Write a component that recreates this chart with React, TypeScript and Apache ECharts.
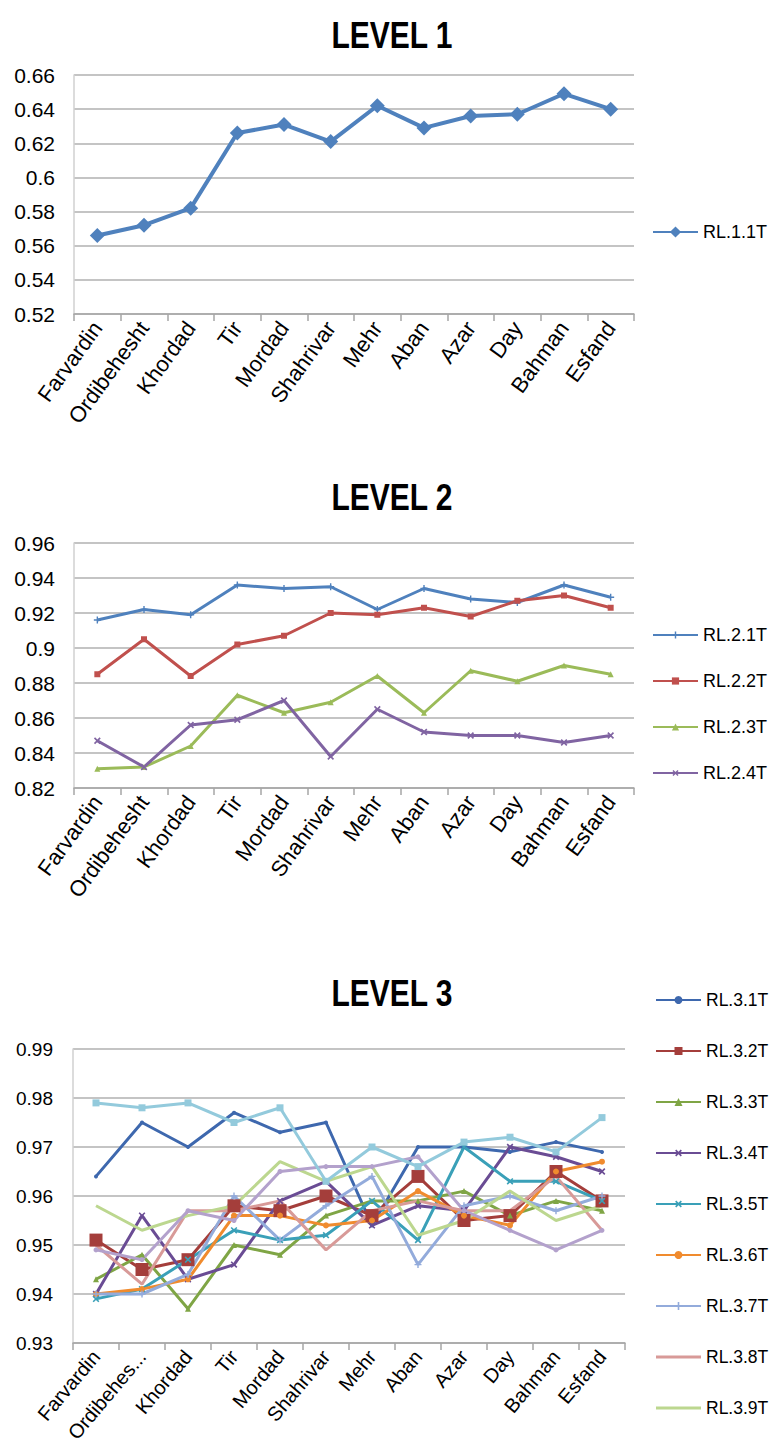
import React, { useEffect, useRef } from "react";
import * as echarts from "echarts";

const months = ["Farvardin", "Ordibehesht", "Khordad", "Tir", "Mordad", "Shahrivar", "Mehr", "Aban", "Azar", "Day", "Bahman", "Esfand"];

const titles = ["LEVEL 1", "LEVEL 2", "LEVEL 3"];

// Level 1
const rl11 = [0.566, 0.572, 0.582, 0.626, 0.631, 0.621, 0.642, 0.629, 0.636, 0.637, 0.649, 0.640];

// Level 2
const rl21 = [0.916, 0.922, 0.919, 0.936, 0.934, 0.935, 0.922, 0.934, 0.928, 0.926, 0.936, 0.929];
const rl22 = [0.885, 0.905, 0.884, 0.902, 0.907, 0.920, 0.919, 0.923, 0.918, 0.927, 0.930, 0.923];
const rl23 = [0.831, 0.832, 0.844, 0.873, 0.863, 0.869, 0.884, 0.863, 0.887, 0.881, 0.890, 0.885];
const rl24 = [0.847, 0.832, 0.856, 0.859, 0.870, 0.838, 0.865, 0.852, 0.850, 0.850, 0.846, 0.850];

// Level 3
const rl31 = [0.964, 0.975, 0.970, 0.977, 0.973, 0.975, 0.954, 0.970, 0.970, 0.969, 0.971, 0.969];
const rl32 = [0.951, 0.945, 0.947, 0.958, 0.957, 0.960, 0.956, 0.964, 0.955, 0.956, 0.965, 0.959];
const rl33 = [0.943, 0.948, 0.937, 0.950, 0.948, 0.956, 0.959, 0.959, 0.961, 0.956, 0.959, 0.957];
const rl34 = [0.940, 0.956, 0.943, 0.946, 0.959, 0.963, 0.954, 0.958, 0.957, 0.970, 0.968, 0.965];
const rl35 = [0.939, 0.941, 0.947, 0.953, 0.951, 0.952, 0.959, 0.951, 0.970, 0.963, 0.963, 0.959];
const rl36 = [0.940, 0.941, 0.943, 0.956, 0.956, 0.954, 0.955, 0.961, 0.956, 0.954, 0.965, 0.967];
const rl37 = [0.940, 0.940, 0.944, 0.960, 0.951, 0.958, 0.964, 0.946, 0.958, 0.960, 0.957, 0.960];
const rl38 = [0.950, 0.942, 0.957, 0.957, 0.959, 0.949, 0.957, 0.959, 0.957, 0.957, 0.964, 0.953];
const rl39 = [0.958, 0.953, 0.956, 0.958, 0.967, 0.963, 0.966, 0.952, 0.955, 0.961, 0.955, 0.958];
const rl310 = [0.949, 0.947, 0.957, 0.955, 0.965, 0.966, 0.966, 0.968, 0.957, 0.953, 0.949, 0.953];
const rl311 = [0.979, 0.978, 0.979, 0.975, 0.978, 0.963, 0.970, 0.966, 0.971, 0.972, 0.969, 0.976];

const level1Names = ["RL.1.1T"];
const level2Names = ["RL.2.1T", "RL.2.2T", "RL.2.3T", "RL.2.4T"];
const level3Names = ["RL.3.1T", "RL.3.2T", "RL.3.3T", "RL.3.4T", "RL.3.5T", "RL.3.6T", "RL.3.7T", "RL.3.8T", "RL.3.9T", "RL.3.10T", "RL.3.11T"];
const level3Legend = level3Names.slice(0, 9);

const level2Data = [rl21, rl22, rl23, rl24];
const level3Data = [rl31, rl32, rl33, rl34, rl35, rl36, rl37, rl38, rl39, rl310, rl311];

const FONT = '"Liberation Sans", Arial, sans-serif';
const PLUS = "path://M4,0H6V4H10V6H6V10H4V6H0V4H4Z";
const BAR = "path://M0,0M45,10M0,3.5H45V6.5H0Z";

export default function App() {
  const ref = useRef<HTMLDivElement>(null);
  useEffect(() => {
    document.body.style.margin = "0";
    if (!ref.current) return;
    const chart = echarts.init(ref.current, null, { renderer: "svg" });

    const fmt = (v: number) => String(+v.toFixed(2));

    const xAxisBase = (gi: number, labelSize: number, rot: number, trunc: boolean) => ({
      type: "category",
      gridIndex: gi,
      data: months,
      boundaryGap: true,
      axisLine: { lineStyle: { color: "#A6A6A6", width: 1.5 } },
      axisTick: { show: true, length: 7, lineStyle: { color: "#A6A6A6", width: 1.5 } },
      axisLabel: {
        rotate: rot,
        interval: 0,
        margin: 10,
        color: "#000",
        fontSize: labelSize,
        fontFamily: FONT,
        formatter: trunc ? (v: string) => (v.length > 10 ? v.slice(0, 9) + "..." : v) : undefined,
      },
      splitLine: { show: false },
    });

    const yAxisBase = (gi: number, min: number, max: number, interval: number, size: number, margin: number) => ({
      type: "value",
      gridIndex: gi,
      min,
      max,
      interval,
      axisLine: { show: true, lineStyle: { color: "#D0D0D0", width: 1.5 } },
      axisTick: { show: false },
      axisLabel: { color: "#000", fontSize: size, fontFamily: FONT, margin, formatter: fmt },
      splitLine: { lineStyle: { color: "#B0B0B0", width: 1.5 } },
    });

    const l2Colors = ["#4F81BD", "#C0504D", "#9BBB59", "#8064A2"];
    const l2Symbols = [PLUS, "rect", "triangle", PLUS];
    const l2Rot = [0, 0, 0, 45];
    const l2Size = [7, 6, 6, 8];

    const l3Colors = ["#3E68AE", "#A43E3B", "#7FA545", "#6A4C94", "#3AA0B8", "#F08B2E", "#93ABDB", "#D89A98", "#BCD78F", "#B3A1CC", "#93CADC"];
    const l3Symbols = ["circle", "rect", "triangle", PLUS, PLUS, "circle", PLUS, "none", "none", "circle", "rect"];
    const l3Rot = [0, 0, 0, 45, 45, 0, 0, 0, 0, 0, 0];
    const l3Size = [4, 13, 6, 8, 8, 6, 7, 0, 0, 5, 7];

    const series: any[] = [];
    series.push({
      name: level1Names[0],
      type: "line",
      xAxisIndex: 0,
      yAxisIndex: 0,
      data: rl11,
      color: "#4F81BD",
      lineStyle: { width: 4, color: "#4F81BD" },
      symbol: "diamond",
      symbolSize: 15,
      itemStyle: { color: "#4F81BD" },
    });
    level2Names.forEach((n, i) => {
      series.push({
        name: n,
        type: "line",
        xAxisIndex: 1,
        yAxisIndex: 1,
        data: level2Data[i],
        color: l2Colors[i],
        lineStyle: { width: 3, color: l2Colors[i] },
        symbol: l2Symbols[i],
        symbolRotate: l2Rot[i],
        symbolSize: l2Size[i],
        itemStyle: { color: l2Colors[i] },
      });
    });
    level3Names.forEach((n, i) => {
      series.push({
        name: n,
        type: "line",
        xAxisIndex: 2,
        yAxisIndex: 2,
        data: level3Data[i],
        color: l3Colors[i],
        lineStyle: { width: 3, color: l3Colors[i] },
        symbol: l3Symbols[i],
        symbolRotate: l3Rot[i],
        symbolSize: l3Size[i],
        showSymbol: l3Symbols[i] !== "none",
        itemStyle: { color: l3Colors[i] },
      });
    });

    const legendText = (s: number) => ({ color: "#000", fontSize: s, fontFamily: FONT, lineHeight: 22 });
    const level3LegendData = level3Legend.map((n, i) =>
      l3Symbols[i] === "none" ? { name: n, icon: BAR } : { name: n }
    );

    chart.setOption({
      animation: false,
      backgroundColor: "#fff",
      grid: [
        { left: 74, top: 75, width: 560, height: 239 },
        { left: 74, top: 543, width: 560, height: 245 },
        { left: 73, top: 1049, width: 552, height: 294 },
      ],
      xAxis: [xAxisBase(0, 22, 54, false), xAxisBase(1, 22, 54, false), xAxisBase(2, 20, 50, true)],
      yAxis: [
        yAxisBase(0, 0.52, 0.66, 0.02, 21, 19),
        yAxisBase(1, 0.82, 0.96, 0.02, 21, 19),
        yAxisBase(2, 0.93, 0.99, 0.01, 19, 20),
      ],
      legend: [
        { data: level1Names, orient: "vertical", left: 647, top: 216, itemWidth: 45, itemHeight: 14, textStyle: legendText(18) },
        { data: level2Names, orient: "vertical", left: 647, top: 619, itemGap: 24, itemWidth: 45, itemHeight: 9, textStyle: legendText(18) },
        { data: level3LegendData, orient: "vertical", left: 650, top: 984, itemGap: 29, itemWidth: 45, itemHeight: 10, textStyle: legendText(17.5) },
      ],
      graphic: titles.map((t, i) => ({
        type: "text",
        x: 392,
        y: [35, 497, 993][i],
        scaleY: 1.25,
        style: {
          text: t,
          fontSize: 30,
          fontWeight: "bold",
          fontFamily: FONT,
          align: "center",
          verticalAlign: "middle",
          fill: "#000",
        },
      })),
      series,
    });
    return () => chart.dispose();
  }, []);
  return <div ref={ref} style={{ width: 769, height: 1448 }} />;
}
